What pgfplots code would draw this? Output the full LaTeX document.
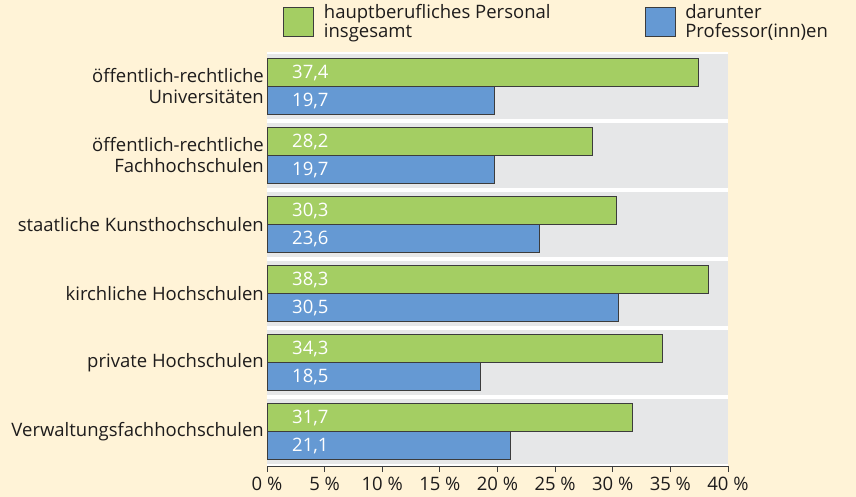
\documentclass[border=0pt]{standalone}
\usepackage{pgfplots}
\pgfplotsset{compat=1.18}
\usepackage{pgfplotstable}
\usepackage{fontspec}
\setmainfont{Open Sans}
\definecolor{cream}{RGB}{255,243,215}
\definecolor{bandgray}{RGB}{230,231,232}
\definecolor{bargreen}{RGB}{164,206,99}
\definecolor{barblue}{RGB}{101,153,211}
\definecolor{edge}{RGB}{60,60,60}
\definecolor{txt}{RGB}{30,28,28}

\pgfplotstableread{
pos value
-0.203 37.4
0.797 28.2
1.797 30.3
2.797 38.3
3.797 34.3
4.797 31.7
}\gesamt
\pgfplotstableread{
pos value
0.203 19.7
1.203 19.7
2.203 23.6
3.203 30.5
4.203 18.5
5.203 21.1
}\prof

\begin{document}
\begin{tikzpicture}[x=1pt,y=1pt]
\fill[cream] (0,0) rectangle (856,497);
\path[use as bounding box] (0,0) rectangle (856,497);
\begin{axis}[
  at={(267pt,31pt)}, anchor=south west,
  scale only axis, width=461pt, height=414pt,
  xmin=0, xmax=40, ymin=-0.5, ymax=5.5, y dir=reverse,
  axis x line*=bottom, axis y line*=left,
  y axis line style={draw=none},
  x axis line style={draw=edge, line width=0.8pt},
  xtick={0,5,...,40},
  xticklabel={\pgfmathprintnumber{\tick}~\%},
  tick align=outside,
  major tick length=6pt,
  xtick style={draw=edge, line width=0.8pt},
  ytick={0,1,2,3,4,5},
  ytick style={draw=none},
  yticklabels={{öffentlich-rechtliche\\Universitäten},{öffentlich-rechtliche\\Fachhochschulen},{staatliche Kunsthochschulen},{kirchliche Hochschulen},{private Hochschulen},{Verwaltungsfachhochschulen}},
  yticklabel style={align=right, font=\fontsize{18.5}{21}\selectfont, text=txt, inner sep=1pt, xshift=4pt},
  xticklabel style={font=\fontsize{18.5}{22}\selectfont, text=txt, inner sep=2pt, yshift=-3pt},
  /pgf/number format/assume math mode=true,
  clip=false,
  legend style={draw=none, fill=none, at={(axis description cs:0.0347,1.0725)}, anchor=west,
    legend columns=2, cells={align=left, anchor=west},
    font=\fontsize{18.5}{19}\selectfont, text=txt, inner sep=0pt,
    /tikz/every odd column/.append style={column sep=8pt},
    /tikz/every even column/.append style={column sep=92pt}},
  legend image code/.code={\draw[#1] (0pt,-14.5pt) rectangle (30pt,14.5pt);},
]
\pgfplotsinvokeforeach{0,...,5}{
  \fill[white] (axis cs:0,#1-0.5) rectangle (axis cs:40,#1+0.5);
  \fill[bandgray] (axis cs:0,#1-0.475) rectangle (axis cs:40,#1+0.475);
}
\addplot[xbar, bar width=0.406, bar shift=0pt, fill=bargreen, draw=edge, line width=0.7pt]
  table[x=value, y=pos] {\gesamt};
\addlegendentry{hauptberufliches Personal\\insgesamt}
\addplot[xbar, bar width=0.406, bar shift=0pt, fill=barblue, draw=edge, line width=0.7pt]
  table[x=value, y=pos] {\prof};
\addlegendentry{darunter\\Professor(inn)en}
\addplot[only marks, mark=none, forget plot, point meta=explicit,
  nodes near coords={\pgfmathprintnumber[fixed, fixed zerofill, precision=1, use comma, assume math mode=true]{\pgfplotspointmeta}},
  nodes near coords style={anchor=west, xshift=25pt, text=white, inner sep=0pt, font=\fontsize{18.5}{22}\selectfont}]
  table[x expr=0, y=pos, meta=value] {\gesamt};
\addplot[only marks, mark=none, forget plot, point meta=explicit,
  nodes near coords={\pgfmathprintnumber[fixed, fixed zerofill, precision=1, use comma, assume math mode=true]{\pgfplotspointmeta}},
  nodes near coords style={anchor=west, xshift=25pt, text=white, inner sep=0pt, font=\fontsize{18.5}{22}\selectfont}]
  table[x expr=0, y=pos, meta=value] {\prof};
\end{axis}
\end{tikzpicture}
\end{document}
